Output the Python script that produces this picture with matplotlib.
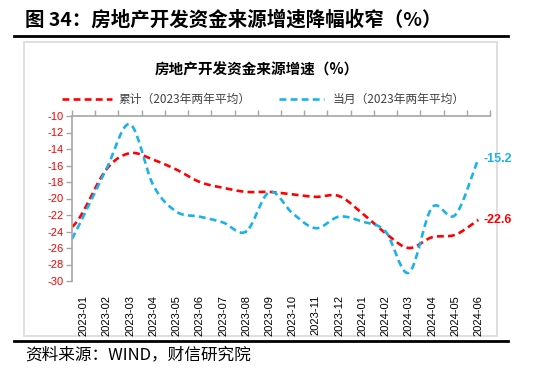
import numpy as np
import matplotlib
matplotlib.use("Agg")
import matplotlib.pyplot as plt
from matplotlib.lines import Line2D
from matplotlib.patches import Rectangle

CJK = ["Noto Sans CJK SC", "DejaVu Sans"]
plt.rcParams["font.family"] = ["Liberation Sans", "Noto Sans CJK SC", "DejaVu Sans"]
plt.rcParams["axes.unicode_minus"] = False

months = ["2023-01", "2023-02", "2023-03", "2023-04", "2023-05", "2023-06",
          "2023-07", "2023-08", "2023-09", "2023-10", "2023-11", "2023-12",
          "2024-01", "2024-02", "2024-03", "2024-04", "2024-05", "2024-06"]
# 累计 (red) and 当月 (blue), %
cum = [-21.5, -16.4, -14.5, -15.3, -16.5, -18.0, -18.7, -19.2, -19.2,
       -19.5, -19.8, -19.7, -21.8, -24.2, -26.0, -24.7, -24.4, -22.6]
mon = [-22.1, -16.3, -11.0, -18.4, -21.6, -22.2, -22.9, -24.0, -19.2,
       -21.8, -23.6, -22.2, -22.8, -24.0, -29.0, -21.1, -22.0, -15.2]

RED = "#FF0000"
BLUE = "#1AB2EC"


def smooth(y, n=20, lead=0.5):
    # catmull-rom style smoothing, like the office "smoothed line" option
    y = np.asarray(y, float)
    p = np.concatenate([[2 * y[0] - y[1]], y, [2 * y[-1] - y[-2]]])
    xs, ys = [], []
    for i in range(len(y) - 1):
        p0, p1, p2, p3 = p[i], p[i + 1], p[i + 2], p[i + 3]
        t0 = -lead if i == 0 else 0.0
        t = np.linspace(t0, 1, n)
        yy = 0.5 * (2 * p1 + (-p0 + p2) * t + (2 * p0 - 5 * p1 + 4 * p2 - p3) * t ** 2
                    + (-p0 + 3 * p1 - 3 * p2 + p3) * t ** 3)
        xs.append(i + t)
        ys.append(yy)
    return np.concatenate(xs), np.concatenate(ys)


fig = plt.figure(figsize=(5.41, 3.72), dpi=100)
ax = fig.add_axes([72 / 541, 1 - 281 / 372, 418 / 541, 165 / 372])

x = np.arange(len(months))
sx, sy = smooth(cum)
ax.plot(sx, sy, color=RED, lw=1.9, dashes=(2.6, 1.6), solid_capstyle="butt")
bx, by = smooth(mon)
ax.plot(bx, by, color=BLUE, lw=1.9, dashes=(2.6, 1.6), solid_capstyle="butt")

ax.text(x[-1] + 0.2, mon[-1], f"{mon[-1]:.1f}", color=BLUE, fontsize=9,
        fontweight="bold", va="center", ha="left", clip_on=False)
ax.text(x[-1] + 0.2, cum[-1], f"{cum[-1]:.1f}", color=RED, fontsize=9,
        fontweight="bold", va="center", ha="left", clip_on=False)

ax.set_xlim(-0.5, len(months) - 0.5)
ax.set_ylim(-30, -10)
ax.set_yticks(np.arange(-30, -9, 2))
ax.tick_params(axis="y", colors="#A6A6A6", labelcolor=RED, labelsize=8,
               length=4, width=1, direction="out", pad=2)

# category labels at the bottom, tick marks on the top axis line
ax.set_xticks(x)
ax.set_xticklabels(months, rotation=90, fontsize=8)
ax.tick_params(axis="x", which="major", length=0, pad=10)
ax.set_xticks(np.arange(-0.5, len(months)), minor=True)
ax.tick_params(axis="x", which="minor", top=True, bottom=False, length=4,
               width=1, color="#A6A6A6", direction="out")

for s in ["right", "bottom"]:
    ax.spines[s].set_visible(False)
for s in ["left", "top"]:
    ax.spines[s].set_color("#A6A6A6")
    ax.spines[s].set_linewidth(1.2)
ax.patch.set_alpha(0)

# frame and rules
fig.add_artist(Rectangle((24 / 541, 1 - 336 / 372), 473 / 541, 294 / 372,
                         transform=fig.transFigure, fill=False,
                         edgecolor="#D9D9D9", lw=1.2, zorder=0))
fig.add_artist(Line2D([14 / 541, 508 / 541], [1 - 36 / 372] * 2, color="black", lw=2))
fig.add_artist(Line2D([14 / 541, 508 / 541], [1 - 341 / 372] * 2, color="black", lw=2))

fig.text(25 / 541, 1 - 20 / 372, "图 34：房地产开发资金来源增速降幅收窄（%）",
         family=CJK, fontsize=14, fontweight="bold", va="center", ha="left")
fig.text(257 / 541, 1 - 69 / 372, "房地产开发资金来源增速（%）",
         family=CJK, fontsize=10.5, fontweight="bold", va="center", ha="center")
fig.text(25 / 541, 1 - 355 / 372, "资料来源：WIND，财信研究院",
         family=CJK, fontsize=12, va="center", ha="left", style="italic")

# legend
ly = 1 - 99 / 372
fig.add_artist(Line2D([62 / 541, 112 / 541], [ly, ly], color=RED, lw=1.9,
                      dashes=(2.6, 1.6)))
fig.text(118 / 541, ly, "累计（2023年两年平均）", family=CJK, fontsize=8.5,
         va="center", ha="left", color="#404040")
fig.add_artist(Line2D([279 / 541, 324 / 541], [ly, ly], color=BLUE, lw=1.9,
                      dashes=(2.6, 1.6)))
fig.text(333 / 541, ly, "当月（2023年两年平均）", family=CJK, fontsize=8.5,
         va="center", ha="left", color="#404040")

fig.savefig("out.png", dpi=100)
